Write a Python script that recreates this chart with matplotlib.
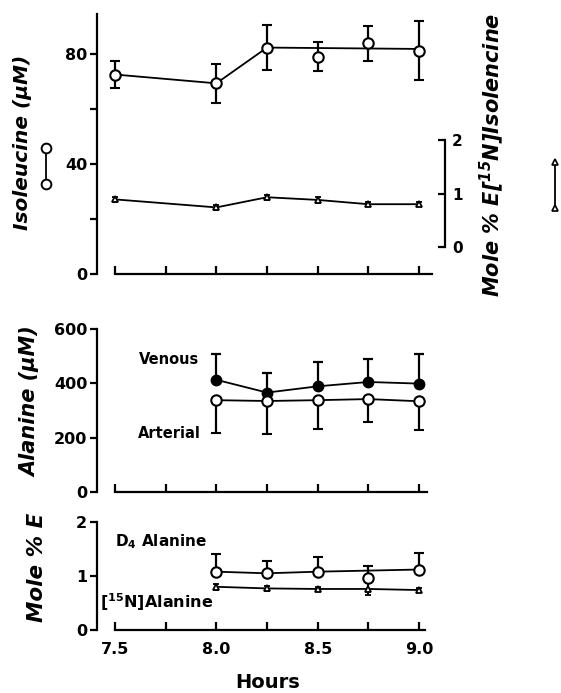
import matplotlib
matplotlib.use("Agg")
import matplotlib.pyplot as plt
from matplotlib.lines import Line2D
import numpy as np

plt.rcParams['font.family'] = ['DejaVu Sans']
plt.rcParams['font.weight'] = 'bold'
plt.rcParams['mathtext.default'] = 'regular'

# ---------------- data ----------------
hours_iso = [7.5, 8.0, 8.25, 8.5, 8.75, 9.0]
iso_conc = [72.5, 69.3, 82.3, 79.0, 83.9, 81.2]
iso_conc_err = [5.0, 7.0, 8.2, 5.3, 6.4, 10.7]
iso_line_idx = [0, 1, 2, 5]          # points joined by the drawn line
iso_line_end = 81.8

iso_15n = [0.89, 0.74, 0.93, 0.88, 0.80, 0.80]
iso_15n_err = [0.05, 0.05, 0.05, 0.05, 0.04, 0.04]

hours_ala = [8.0, 8.25, 8.5, 8.75, 9.0]
ala_venous = [413, 366, 389, 405, 399]
ala_venous_err = [96, 71, 89, 85, 110]
ala_arterial = [338, 335, 338, 342, 334]
ala_arterial_err = [119, 122, 107, 86, 106]

d4_ala = [1.08, 1.05, 1.08, 0.96, 1.12]
d4_ala_err = [0.33, 0.23, 0.28, 0.23, 0.31]
d4_line_idx = [0, 1, 2, 4]
n15_ala = [0.80, 0.77, 0.76, 0.76, 0.74]
n15_ala_err = [0.06, 0.04, 0.04, 0.11, 0.04]

x_ticks_major = [7.5, 8.0, 8.5, 9.0]
x_ticks_all = [7.5, 7.75, 8.0, 8.25, 8.5, 8.75, 9.0]

# ---------------- figure ----------------
W, H = 561, 693
fig = plt.figure(figsize=(W / 100, H / 100), dpi=100)

def fx(px):
    return px / W

def fy(py):
    return 1 - py / H

left_px, right_px = 97, 445
xlim = (7.5 - (115 - 97) / 202.7, 7.5 + (445 - 115) / 202.7)

TICK_FS = 11.5
LABEL_FS = 15

def make_ax(top_px, bot_px):
    ax = fig.add_axes([fx(left_px), fy(bot_px), fx(right_px - left_px), (bot_px - top_px) / H])
    ax.set_xlim(*xlim)
    ax.spines['top'].set_visible(False)
    ax.spines['right'].set_visible(False)
    for s in ('left', 'bottom'):
        ax.spines[s].set_linewidth(1.6)
    ax.set_xticks(x_ticks_all)
    ax.tick_params(axis='x', direction='in', length=6, width=1.6, labelbottom=False)
    ax.tick_params(axis='y', direction='out', length=5, width=1.6, labelsize=TICK_FS, pad=2)
    ax.patch.set_visible(False)
    return ax

lw = 1.3
ms_c = 7.5
cap = 3.5

# ---------- top panel ----------
ax1 = make_ax(14, 274)
ax1.set_ylim(0, 94.5)
ax1.set_yticks([0, 20, 40, 60, 80])
ax1.set_yticklabels(['0', '', '40', '', '80'], fontweight='bold')
ax1.spines['bottom'].set_bounds(7.5, 9.065)

lx = [hours_iso[i] for i in iso_line_idx]
ly = [iso_conc[i] for i in iso_line_idx[:-1]] + [iso_line_end]
ax1.plot(lx, ly, color='black', lw=lw, zorder=2)
ax1.errorbar(hours_iso, iso_conc, yerr=iso_conc_err, fmt='o', ms=ms_c, mfc='white',
             mec='black', mew=1.5, ecolor='black', elinewidth=1.6, capsize=cap, capthick=1.6, zorder=3)

ax2 = ax1.twinx()
ax2.set_ylim(-(274 - 247) * 2 / 107, (247 - 14) * 2 / 107)
for s in ('top', 'left', 'bottom'):
    ax2.spines[s].set_visible(False)
ax2.spines['right'].set_bounds(0, 2)
ax2.spines['right'].set_linewidth(1.6)
ax2.set_yticks([0, 1, 2])
ax2.set_yticklabels(['0', '1', '2'], fontweight='bold')
ax2.tick_params(axis='y', direction='in', length=5, width=1.6, labelsize=11, pad=5)
ax2.plot(hours_iso, iso_15n, color='black', lw=lw, zorder=2)
ax2.errorbar(hours_iso, iso_15n, yerr=iso_15n_err, fmt='^', ms=4.5, mfc='white',
             mec='black', mew=1.3, ecolor='black', elinewidth=1.5, capsize=2.5, capthick=1.5, zorder=3)

# ---------- middle panel ----------
axm = make_ax(329, 492)
axm.set_ylim(0, 600)
axm.set_yticks([0, 200, 400, 600])
axm.set_yticklabels(['0', '200', '400', '600'], fontweight='bold')
axm.spines['bottom'].set_bounds(7.5, 9.04)
axm.errorbar(hours_ala, ala_venous, yerr=[np.zeros(len(hours_ala)), ala_venous_err], fmt='-o',
             ms=ms_c, mfc='black', mec='black', color='black', lw=lw,
             ecolor='black', elinewidth=1.6, capsize=cap, capthick=1.6, zorder=2)
axm.errorbar(hours_ala, ala_arterial, yerr=[ala_arterial_err, np.zeros(len(hours_ala))], fmt='-o',
             ms=ms_c, mfc='white', mec='black', mew=1.5, color='black', lw=lw,
             ecolor='black', elinewidth=1.6, capsize=cap, capthick=1.6, zorder=3)
fig.text(fx(139), fy(359), 'Venous', fontsize=10.5, fontweight='bold', ha='left', va='center')
fig.text(fx(138), fy(433), 'Arterial', fontsize=10.5, fontweight='bold', ha='left', va='center')

# ---------- bottom panel ----------
axb = make_ax(522, 630)
axb.set_ylim(0, 2)
axb.set_yticks([0, 1, 2])
axb.set_yticklabels(['0', '1', '2'], fontweight='bold')
axb.spines['bottom'].set_bounds(7.5, 9.03)
axb.tick_params(axis='x', labelbottom=True, labelsize=TICK_FS, pad=9)
axb.set_xticks(x_ticks_all)
axb.set_xticklabels([f'{t:.1f}' if t in x_ticks_major else '' for t in x_ticks_all], fontweight='bold')

dx = [hours_ala[i] for i in d4_line_idx]
dy = [d4_ala[i] for i in d4_line_idx]
axb.plot(dx, dy, color='black', lw=lw, zorder=2)
axb.errorbar(hours_ala, d4_ala, yerr=[np.zeros(len(hours_ala)), d4_ala_err], fmt='o',
             ms=ms_c, mfc='white', mec='black', mew=1.5,
             ecolor='black', elinewidth=1.6, capsize=cap, capthick=1.6, zorder=3)
axb.errorbar(hours_ala, n15_ala, yerr=n15_ala_err, fmt='-^', ms=4.5, mfc='white', mec='black',
             mew=1.3, color='black', lw=lw, ecolor='black', elinewidth=1.5, capsize=2.5, capthick=1.5, zorder=2)
fig.text(fx(115), fy(542), 'D$_4$ Alanine', fontsize=11, fontweight='bold', ha='left', va='center')
fig.text(fx(100), fy(602), '[$^{15}$N]Alanine', fontsize=11.5, fontweight='bold', ha='left', va='center')

# ---------- axis labels ----------
fig.text(fx(23), fy(142), 'Isoleucine (μM)', rotation=90, fontsize=14.5, fontweight='bold',
         fontstyle='italic', ha='center', va='center')
fig.text(fx(30), fy(402), 'Alanine (μM)', rotation=90, fontsize=LABEL_FS, fontweight='bold',
         fontstyle='italic', ha='center', va='center')
fig.text(fx(37), fy(567), 'Mole % E', rotation=90, fontsize=LABEL_FS + 0.5, fontweight='bold',
         fontstyle='italic', ha='center', va='center')
fig.text(fx(492), fy(155), 'Mole % E[$^{15}$N]Isolencine', rotation=90, fontsize=LABEL_FS,
         fontweight='bold', fontstyle='italic', ha='center', va='center')
fig.text(fx(268), fy(683), 'Hours', fontsize=14, fontweight='bold', ha='center', va='center')

# legend keys
fig.add_artist(Line2D([fx(46), fx(46)], [fy(148), fy(184)], transform=fig.transFigure,
                      color='black', lw=1.3, marker='o', ms=7, mfc='white', mec='black', mew=1.4))
fig.add_artist(Line2D([fx(555), fx(555)], [fy(162), fy(208)], transform=fig.transFigure,
                      color='black', lw=1.3, marker='^', ms=4.5, mfc='white', mec='black', mew=1.2))

fig.savefig('out.png', dpi=100)
